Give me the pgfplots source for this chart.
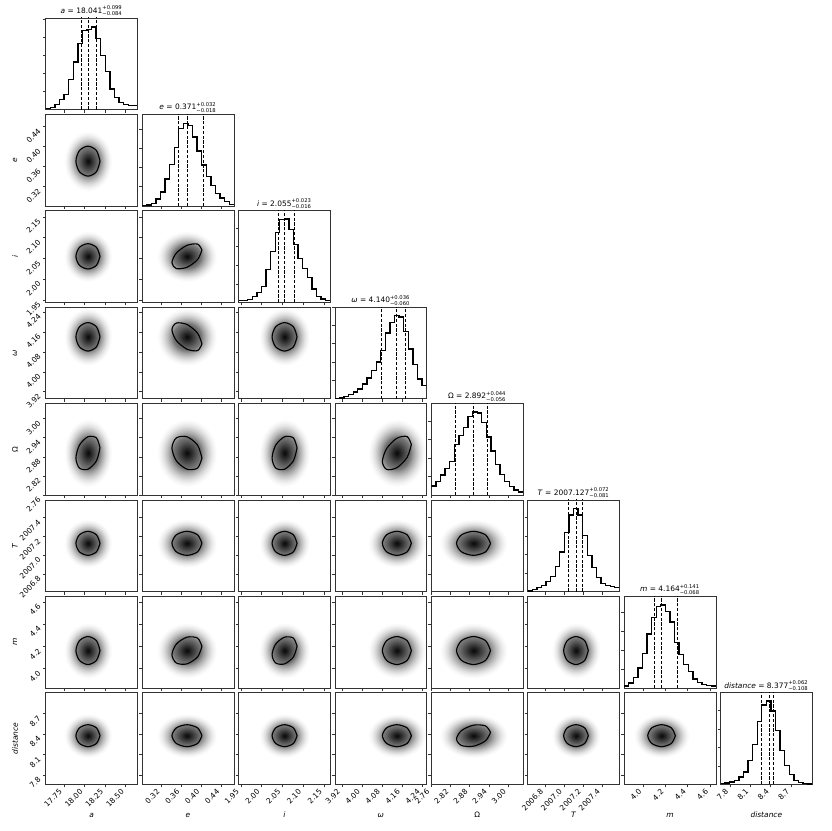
\documentclass[border=0pt]{standalone}
\usepackage{amsmath}
\usepackage{fontspec}
\setmainfont{DejaVu Sans}
\usepackage{pgfplots}
\usepackage{pgfplotstable}
\pgfplotsset{compat=1.18}

% grey ramp for the 2d density (the path box maps onto the inner 25bp radius = 2 sigma)
\colorlet{g0}{black!97}
\colorlet{g1}{black!86}
\colorlet{g2}{black!74}
\colorlet{g3}{black!62}
\colorlet{g4}{black!52}
\colorlet{g5}{black!44}
\colorlet{g6}{black!33}
\colorlet{g7}{black!21}
\colorlet{g8}{black!11}
\colorlet{g9}{black!4}
\pgfdeclareradialshading{blob}{\pgfpoint{0bp}{0bp}}{color(0bp)=(g0); color(3bp)=(g1); color(6bp)=(g2); color(9bp)=(g3); color(12bp)=(g4); color(13bp)=(g5); color(15bp)=(g6); color(17.5bp)=(g7); color(20bp)=(g8); color(22.5bp)=(g9); color(25bp)=(white); color(50bp)=(white)}

\newcommand{\fs}{\fontsize{5.6}{6.5}\selectfont}
\newcommand{\ttl}[4]{#1 = #2$^{\text{+#3}}_{\text{−#4}}$}

% 1d histograms, 20 bins (left edges, last row closes the step)
\pgfplotstableread{
x n
17.528 3
17.584 7
17.639 15
17.695 30
17.751 47
17.806 92
17.862 145
17.918 202
17.973 242
18.029 245
18.085 252
18.140 218
18.196 165
18.251 117
18.307 63
18.363 37
18.418 22
18.474 15
18.530 12
18.585 12
18.641 12
}\HistA
\pgfplotstableread{
x n
0.2810 2
0.2902 3
0.2994 7
0.3086 20
0.3178 40
0.3270 77
0.3362 118
0.3454 168
0.3546 221
0.3638 235
0.3730 230
0.3822 197
0.3914 157
0.4006 117
0.4098 85
0.4190 58
0.4282 35
0.4374 23
0.4466 12
0.4558 5
0.4650 5
}\HistE
\pgfplotstableread{
x n
1.94400 5
1.95505 5
1.96610 9
1.97715 17
1.98820 30
1.99925 48
2.01030 97
2.02135 150
2.03240 207
2.04345 245
2.05450 247
2.06555 217
2.07660 172
2.08765 130
2.09870 100
2.10975 73
2.12080 40
2.13185 17
2.14290 10
2.15395 5
2.16500 5
}\HistI
\pgfplotstableread{
x n
3.89200 1
3.91035 2
3.92870 7
3.94705 12
3.96540 20
3.98375 29
4.00210 44
4.02045 62
4.03880 84
4.05715 110
4.07550 145
4.09385 197
4.11220 229
4.13055 250
4.14890 245
4.16725 202
4.18560 149
4.20395 102
4.22230 59
4.24065 39
4.25900 39
}\HistW
\pgfplotstableread{
x n
2.76000 27
2.77435 40
2.78870 60
2.80305 80
2.81740 100
2.83175 150
2.84610 177
2.86045 202
2.87480 235
2.88915 248
2.90350 245
2.91785 217
2.93220 173
2.94655 132
2.96090 92
2.97525 62
2.98960 40
3.00395 25
3.01830 15
3.03265 10
3.04700 10
}\HistO
\pgfplotstableread{
x n
2006.61700 2
2006.66545 7
2006.71390 12
2006.76235 19
2006.81080 29
2006.85925 44
2006.90770 74
2006.95615 117
2007.00460 175
2007.05305 227
2007.10150 247
2007.14995 227
2007.19840 167
2007.24685 107
2007.29530 72
2007.34375 42
2007.39220 25
2007.44065 19
2007.48910 15
2007.53755 12
2007.58600 12
}\HistT
\pgfplotstableread{
x n
3.82700 6
3.86825 15
3.90950 30
3.95075 58
3.99200 100
4.03325 158
4.07450 206
4.11575 238
4.15700 243
4.19825 223
4.23950 193
4.28075 133
4.32200 98
4.36325 68
4.40450 48
4.44575 26
4.48700 16
4.52825 10
4.56950 8
4.61075 6
4.65200 6
}\HistM
\pgfplotstableread{
x n
7.6600 2
7.7275 4
7.7950 7
7.8625 12
7.9300 22
7.9975 37
8.0650 72
8.1325 120
8.2000 187
8.2675 237
8.3350 249
8.4025 219
8.4700 162
8.5375 102
8.6050 57
8.6725 29
8.7400 12
8.8075 6
8.8750 3
8.9425 1
9.0100 1
}\HistD

% one-sigma contours: x columns per variable, y columns per variable and tilt
\pgfplotstableread{
xa xe xi xw xO xT xm ye0 yi0 yi5 yw0 ywn5 yO0 yOp3 yOn3 yOp5 yT0 ym0 ymp3 yd0 ydp3
18.187 0.4011 2.0851 4.198 2.9452 2007.257 4.288 0.3710 2.0550 2.0703 4.1400 4.1115 2.8920 2.9080 2.8760 2.9186 2007.127 4.164 4.202 8.377 8.426
18.144 0.3923 2.0763 4.181 2.9296 2007.219 4.252 0.3923 2.0766 2.0845 4.1803 4.1548 2.9296 2.9392 2.9166 2.9434 2007.217 4.253 4.276 8.492 8.521
18.041 0.3710 2.0550 4.140 2.8920 2007.127 4.164 0.4011 2.0855 2.0814 4.1970 4.1894 2.9452 2.9428 2.9428 2.9381 2007.254 4.290 4.284 8.539 8.532
17.938 0.3497 2.0337 4.099 2.8544 2007.035 4.076 0.3923 2.0766 2.0629 4.1803 4.1951 2.9296 2.9166 2.9392 2.9058 2007.217 4.253 4.222 8.492 8.452
17.895 0.3409 2.0249 4.082 2.8388 2006.997 4.040 0.3710 2.0550 2.0398 4.1400 4.1685 2.8920 2.8760 2.9080 2.8654 2007.127 4.164 4.126 8.377 8.328
17.938 0.3497 2.0337 4.099 2.8544 2007.035 4.076 0.3497 2.0334 2.0255 4.0997 4.1252 2.8544 2.8448 2.8674 2.8406 2007.037 4.075 4.052 8.263 8.233
18.041 0.3710 2.0550 4.140 2.8920 2007.127 4.164 0.3409 2.0245 2.0286 4.0830 4.0906 2.8388 2.8412 2.8412 2.8459 2007.000 4.038 4.044 8.215 8.223
18.144 0.3923 2.0763 4.181 2.9296 2007.219 4.252 0.3497 2.0334 2.0471 4.0997 4.0849 2.8544 2.8674 2.8448 2.8782 2007.037 4.075 4.106 8.263 8.302
18.187 0.4011 2.0851 4.198 2.9452 2007.257 4.288 0.3710 2.0550 2.0703 4.1400 4.1115 2.8920 2.9080 2.8760 2.9186 2007.127 4.164 4.202 8.377 8.426
}\Ell

% box of the grey density (median +- 2 sigma) for each variable
\pgfplotstableread{
hxa hxe hxi hxw hxO hxT hxm hye hyi hyw hyO hyT hym hyd
17.750 0.3108 1.9940 4.025 2.7856 2006.871 3.914 0.3108 1.9940 4.025 2.7856 2006.871 3.914 8.053
18.332 0.4312 2.1160 4.255 2.9984 2007.383 4.414 0.3108 1.9940 4.025 2.7856 2006.871 3.914 8.053
18.332 0.4312 2.1160 4.255 2.9984 2007.383 4.414 0.4312 2.1160 4.255 2.9984 2007.383 4.414 8.701
17.750 0.3108 1.9940 4.025 2.7856 2006.871 3.914 0.4312 2.1160 4.255 2.9984 2007.383 4.414 8.701
}\Halo

\pgfplotsset{
  cp/.style={scale only axis, width=68.775pt, height=68.775pt, anchor=south west,
    axis line style={black!80, line width=0.45pt},
    tick style={black!80, line width=0.45pt},
    tick align=outside, major tick length=2.2pt,
    xtick pos=left, ytick pos=left,
    xticklabels={}, yticklabels={},
    ticklabel style={font=\fs},
    xticklabel style={rotate=45, anchor=east},
    yticklabel style={rotate=45, anchor=east},
    label style={font=\fs},
    xlabel style={at={(axis description cs:0.5,-0.335)}, anchor=center},
    ylabel style={at={(axis description cs:-0.335,0.5)}, anchor=center},
    every axis title shift=0pt,
    title style={font=\fs, at={(axis description cs:0.5,1)}, anchor=south, inner sep=1.2pt},
    clip=true},
  X a/.style={xmin=17.528, xmax=18.641, xtick={17.75,18,18.25,18.5}},
  X e/.style={xmin=0.281, xmax=0.465, xtick={0.32,0.36,0.40,0.44}},
  X i/.style={xmin=1.944, xmax=2.165, xtick={1.95,2.00,2.05,2.10,2.15}},
  X w/.style={xmin=3.892, xmax=4.259, xtick={3.92,4.00,4.08,4.16,4.24}},
  X O/.style={xmin=2.7598, xmax=3.047, xtick={2.76,2.82,2.88,2.94,3.00}},
  X T/.style={xmin=2006.617, xmax=2007.586, xtick={2006.8,2007.0,2007.2,2007.4}},
  X m/.style={xmin=3.827, xmax=4.652, xtick={4.0,4.2,4.4,4.6}},
  X d/.style={xmin=7.660, xmax=9.010, xtick={7.8,8.1,8.4,8.7}},
  Y e/.style={ymin=0.281, ymax=0.465, ytick={0.32,0.36,0.40,0.44}},
  Y i/.style={ymin=1.944, ymax=2.165, ytick={1.95,2.00,2.05,2.10,2.15}},
  Y w/.style={ymin=3.892, ymax=4.259, ytick={3.92,4.00,4.08,4.16,4.24}},
  Y O/.style={ymin=2.7598, ymax=3.047, ytick={2.76,2.82,2.88,2.94,3.00}},
  Y T/.style={ymin=2006.617, ymax=2007.586, ytick={2006.8,2007.0,2007.2,2007.4}},
  Y m/.style={ymin=3.827, ymax=4.652, ytick={4.0,4.2,4.4,4.6}},
  Y d/.style={ymin=7.660, ymax=9.010, ytick={7.8,8.1,8.4,8.7}},
  XL a/.style={xticklabels={17.75,18.00,18.25,18.50}, xlabel={\textit{a}}},
  XL e/.style={xticklabels={0.32,0.36,0.40,0.44}, xlabel={\textit{e}}},
  XL i/.style={xticklabels={1.95,2.00,2.05,2.10,2.15}, xlabel={\textit{i}}},
  XL w/.style={xticklabels={3.92,4.00,4.08,4.16,4.24}, xlabel={\textit{ω}}},
  XL O/.style={xticklabels={2.76,2.82,2.88,2.94,3.00}, xlabel={Ω}},
  XL T/.style={xticklabels={2006.8,2007.0,2007.2,2007.4}, xlabel={\textit{T}}},
  XL m/.style={xticklabels={4.0,4.2,4.4,4.6}, xlabel={\textit{m}}},
  XL d/.style={xticklabels={7.8,8.1,8.4,8.7}, xlabel={\textit{distance}}},
  YL e/.style={yticklabels={0.32,0.36,0.40,0.44}, ylabel={\textit{e}}},
  YL i/.style={yticklabels={1.95,2.00,2.05,2.10,2.15}, ylabel={\textit{i}}},
  YL w/.style={yticklabels={3.92,4.00,4.08,4.16,4.24}, ylabel={\textit{ω}}},
  YL O/.style={yticklabels={2.76,2.82,2.88,2.94,3.00}, ylabel={Ω}},
  YL T/.style={yticklabels={2006.8,2007.0,2007.2,2007.4}, ylabel={\textit{T}}},
  YL m/.style={yticklabels={4.0,4.2,4.4,4.6}, ylabel={\textit{m}}},
  YL d/.style={yticklabels={7.8,8.1,8.4,8.7}, ylabel={\textit{distance}}},
}

% diagonal panel: x, y, variable, ymax, table, quantiles, extra keys
\newcommand{\hst}[7]{%
\begin{axis}[cp, at={(#1,#2)}, X #3, ymin=0, ymax=#4, ytick={55,110,165,220,275}, #7]
\addplot[const plot, black, line width=1pt] table[x=x,y=n]{#5};
\addplot[ycomb, black, dash pattern=on 2.4pt off 1.2pt, line width=0.6pt] coordinates {#6};
\end{axis}}

% off-diagonal panel: x, y, column var, row var, contour column, extra keys
\newcommand{\pan}[6]{%
\begin{axis}[cp, at={(#1,#2)}, X #3, Y #4, #6]
\addplot[draw=none, shade, shading=blob] table[x=hx#3, y=hy#4]{\Halo} -- cycle;
\addplot[smooth, black, line width=0.85pt] table[x=x#3, y=#5]{\Ell};
\end{axis}}

\begin{document}
\begin{tikzpicture}
\useasboundingbox (0,0) rectangle (623.25pt,623.25pt);

\hst{34.275pt}{541.05pt}{a}{280}{\HistA}{(17.957,400) (18.041,400) (18.140,400)}{title={\ttl{\textit{a}}{18.041}{0.099}{0.084}}}
\hst{106.575pt}{468.75pt}{e}{262}{\HistE}{(0.353,400) (0.371,400) (0.403,400)}{title={\ttl{\textit{e}}{0.371}{0.032}{0.018}}}
\hst{178.875pt}{396.45pt}{i}{272}{\HistI}{(2.039,400) (2.055,400) (2.078,400)}{title={\ttl{\textit{i}}{2.055}{0.023}{0.016}}}
\hst{251.175pt}{324.15pt}{w}{275}{\HistW}{(4.080,400) (4.140,400) (4.176,400)}{title={\ttl{\textit{ω}}{4.140}{0.036}{0.060}}}
\hst{323.475pt}{251.85pt}{O}{273}{\HistO}{(2.836,400) (2.892,400) (2.936,400)}{title={\ttl{Ω}{2.892}{0.044}{0.056}}}
\hst{395.775pt}{179.55pt}{T}{272}{\HistT}{(2007.046,400) (2007.127,400) (2007.199,400)}{title={\ttl{\textit{T}}{2007.127}{0.072}{0.081}}}
\hst{468.075pt}{107.25pt}{m}{268}{\HistM}{(4.096,400) (4.164,400) (4.305,400)}{title={\ttl{\textit{m}}{4.164}{0.141}{0.068}}}
\hst{540.375pt}{34.95pt}{d}{274}{\HistD}{(8.269,400) (8.377,400) (8.439,400)}{title={\ttl{\textit{distance}}{8.377}{0.062}{0.108}}, XL d}

\pan{34.275pt}{468.75pt}{a}{e}{ye0}{YL e}

\pan{34.275pt}{396.45pt}{a}{i}{yi0}{YL i}
\pan{106.575pt}{396.45pt}{e}{i}{yi5}{}

\pan{34.275pt}{324.15pt}{a}{w}{yw0}{YL w}
\pan{106.575pt}{324.15pt}{e}{w}{ywn5}{}
\pan{178.875pt}{324.15pt}{i}{w}{yw0}{}

\pan{34.275pt}{251.85pt}{a}{O}{yOp3}{YL O}
\pan{106.575pt}{251.85pt}{e}{O}{yOn3}{}
\pan{178.875pt}{251.85pt}{i}{O}{yOp3}{}
\pan{251.175pt}{251.85pt}{w}{O}{yOp5}{}

\pan{34.275pt}{179.55pt}{a}{T}{yT0}{YL T}
\pan{106.575pt}{179.55pt}{e}{T}{yT0}{}
\pan{178.875pt}{179.55pt}{i}{T}{yT0}{}
\pan{251.175pt}{179.55pt}{w}{T}{yT0}{}
\pan{323.475pt}{179.55pt}{O}{T}{yT0}{}

\pan{34.275pt}{107.25pt}{a}{m}{ym0}{YL m}
\pan{106.575pt}{107.25pt}{e}{m}{ymp3}{}
\pan{178.875pt}{107.25pt}{i}{m}{ymp3}{}
\pan{251.175pt}{107.25pt}{w}{m}{ym0}{}
\pan{323.475pt}{107.25pt}{O}{m}{ym0}{}
\pan{395.775pt}{107.25pt}{T}{m}{ym0}{}

\pan{34.275pt}{34.95pt}{a}{d}{yd0}{YL d, XL a}
\pan{106.575pt}{34.95pt}{e}{d}{yd0}{XL e}
\pan{178.875pt}{34.95pt}{i}{d}{yd0}{XL i}
\pan{251.175pt}{34.95pt}{w}{d}{yd0}{XL w}
\pan{323.475pt}{34.95pt}{O}{d}{ydp3}{XL O}
\pan{395.775pt}{34.95pt}{T}{d}{yd0}{XL T}
\pan{468.075pt}{34.95pt}{m}{d}{yd0}{XL m}
\end{tikzpicture}
\end{document}
